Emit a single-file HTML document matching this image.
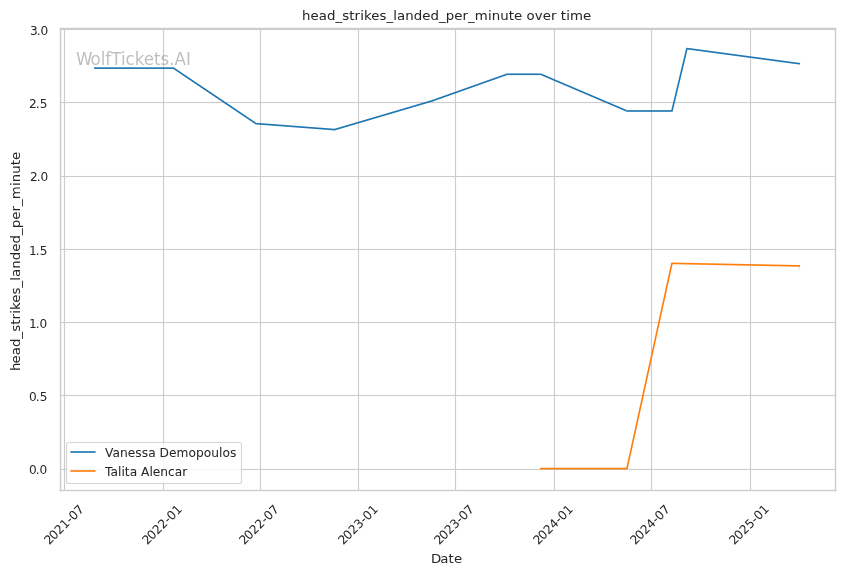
<!DOCTYPE html>
<html lang="en">
<head>
<meta charset="utf-8">
<title>head_strikes_landed_per_minute over time</title>
<style>
  html, body { margin: 0; padding: 0; background: #ffffff; }
  body { width: 844px; height: 575px; overflow: hidden; }
  svg { display: block; }
  svg text { font-family: "DejaVu Sans", "Liberation Sans", sans-serif; font-weight: 400; font-style: normal; white-space: pre; text-rendering: auto; }
</style>
</head>
<body>
<svg width="844" height="575" viewBox="0 0 844 575" role="img" aria-label="head_strikes_landed_per_minute over time">
  <!-- Line chart (seaborn "paper"/"whitegrid" look): grid, tick labels, two series, legend, watermark.
       Geometry is laid out on the pixel grid of the 844x575 canvas; glyphs carry explicit x positions so
       the DejaVu Sans text keeps the same advance widths as the original raster. -->
  <rect x="0" y="0" width="844" height="575" fill="#ffffff"/>
  <g class="axes">
    <g class="grid">
      <path d="M64.5,490.5 L64.5,28.5" fill="none" stroke="#cccccc" stroke-width="1.111" stroke-linecap="round" stroke-linejoin="round"/>
      <path d="M163.5,490.5 L163.5,28.5" fill="none" stroke="#cccccc" stroke-width="1.111" stroke-linecap="round" stroke-linejoin="round"/>
      <path d="M260.5,490.5 L260.5,28.5" fill="none" stroke="#cccccc" stroke-width="1.111" stroke-linecap="round" stroke-linejoin="round"/>
      <path d="M358.5,490.5 L358.5,28.5" fill="none" stroke="#cccccc" stroke-width="1.111" stroke-linecap="round" stroke-linejoin="round"/>
      <path d="M455.5,490.5 L455.5,28.5" fill="none" stroke="#cccccc" stroke-width="1.111" stroke-linecap="round" stroke-linejoin="round"/>
      <path d="M554.5,490.5 L554.5,28.5" fill="none" stroke="#cccccc" stroke-width="1.111" stroke-linecap="round" stroke-linejoin="round"/>
      <path d="M651.5,490.5 L651.5,28.5" fill="none" stroke="#cccccc" stroke-width="1.111" stroke-linecap="round" stroke-linejoin="round"/>
      <path d="M750.5,490.5 L750.5,28.5" fill="none" stroke="#cccccc" stroke-width="1.111" stroke-linecap="round" stroke-linejoin="round"/>
      <path d="M60,469.5 H836" fill="none" stroke="#cccccc" stroke-opacity="0.0556" stroke-width="3"/>
      <path d="M60,469.5 H836" fill="none" stroke="#cccccc" stroke-width="1"/>
      <path d="M60,395.5 H836" fill="none" stroke="#cccccc" stroke-opacity="0.0556" stroke-width="3"/>
      <path d="M60,395.5 H836" fill="none" stroke="#cccccc" stroke-width="1"/>
      <path d="M60,322.5 H836" fill="none" stroke="#cccccc" stroke-opacity="0.0556" stroke-width="3"/>
      <path d="M60,322.5 H836" fill="none" stroke="#cccccc" stroke-width="1"/>
      <path d="M60,249.5 H836" fill="none" stroke="#cccccc" stroke-opacity="0.0556" stroke-width="3"/>
      <path d="M60,249.5 H836" fill="none" stroke="#cccccc" stroke-width="1"/>
      <path d="M60,176.5 H836" fill="none" stroke="#cccccc" stroke-opacity="0.0556" stroke-width="3"/>
      <path d="M60,176.5 H836" fill="none" stroke="#cccccc" stroke-width="1"/>
      <path d="M60,102.5 H836" fill="none" stroke="#cccccc" stroke-opacity="0.0556" stroke-width="3"/>
      <path d="M60,102.5 H836" fill="none" stroke="#cccccc" stroke-width="1"/>
      <path d="M60,29.5 H836" fill="none" stroke="#cccccc" stroke-opacity="0.0556" stroke-width="3"/>
      <path d="M60,29.5 H836" fill="none" stroke="#cccccc" stroke-width="1"/>
    </g>
    <g class="x-tick-labels">
      <text font-size="12.222" fill="#262626" stroke="#262626" stroke-width="0.01" transform="translate(48.586,546) rotate(-45)" x="1 7.75 15.5 23.25 31 35.5 43.25" y="0">2021-07</text>
      <text font-size="12.222" fill="#262626" stroke="#262626" stroke-width="0.01" transform="translate(146.586,546) rotate(-45)" x="1 7.75 15.5 23.25 31 35.5 43.25" y="0">2022-01</text>
      <text font-size="12.222" fill="#262626" stroke="#262626" stroke-width="0.01" transform="translate(243.586,546) rotate(-45)" x="1 7.75 15.5 23.25 31 35.5 43.25" y="0">2022-07</text>
      <text font-size="12.222" fill="#262626" stroke="#262626" stroke-width="0.01" transform="translate(342.586,546) rotate(-45)" x="1 7.75 15.5 23.25 31 35.5 43.25" y="0">2023-01</text>
      <text font-size="12.222" fill="#262626" stroke="#262626" stroke-width="0.01" transform="translate(438.586,546) rotate(-45)" x="1 7.75 15.5 23.25 31 35.5 43.25" y="0">2023-07</text>
      <text font-size="12.222" fill="#262626" stroke="#262626" stroke-width="0.01" transform="translate(537.586,546) rotate(-45)" x="1 7.75 15.5 23.25 31 35.5 43.25" y="0">2024-01</text>
      <text font-size="12.222" fill="#262626" stroke="#262626" stroke-width="0.01" transform="translate(634.586,546) rotate(-45)" x="1 7.75 15.5 23.25 31 35.5 43.25" y="0">2024-07</text>
      <text font-size="12.222" fill="#262626" stroke="#262626" stroke-width="0.01" transform="translate(733.586,546) rotate(-45)" x="1 7.75 15.5 23.25 31.125 35.625 43.375" y="0">2025-01</text>
    </g>
    <g class="y-tick-labels">
      <text font-size="12.131" fill="#262626" x="28.938 35.688 39.562" y="474">0.0</text>
      <text font-size="12.131" fill="#262626" x="29.062 35.812 39.688" y="401">0.5</text>
      <text font-size="12.131" fill="#262626" x="28.938 35.688 39.562" y="328">1.0</text>
      <text font-size="12.131" fill="#262626" x="29.062 35.812 39.688" y="255">1.5</text>
      <text font-size="12.131" fill="#262626" x="29.938 36.688 40.562" y="181">2.0</text>
      <text font-size="12.131" fill="#262626" x="29.062 35.812 39.688" y="108">2.5</text>
      <text font-size="12.131" fill="#262626" x="29.938 36.688 40.562" y="35">3.0</text>
    </g>
    <g class="axis-labels">
      <text font-size="13.1" fill="#262626" transform="translate(430.062,563) scale(1.0178,1)" x="0.983 10.071 18.176 23.457" y="0">Date</text>
      <text font-size="13.1" fill="#262626" stroke="#262626" stroke-width="0.01" transform="translate(20,371.938) rotate(-90) scale(1.0178,1)" x="0.983 8.351 16.457 24.563 32.914 39.546 46.301 51.582 57.108 60.793 68.039 76.145 82.899 89.531 93.216 101.321 109.673 118.024 126.13 134.481 141.113 149.465 157.57 163.097 169.729 182.624 186.309 194.66 203.011 208.292" y="0">head_strikes_landed_per_minute</text>
    </g>
    <g class="ci-band">
      <path d="M799.5,63.5 L799.5,64.5" fill="none" stroke="#1f77b4" stroke-opacity="0.2" stroke-width="1.111"/>
      <path d="M799.5,264.5 L799.5,269.5" fill="none" stroke="#ff7f0e" stroke-opacity="0.2" stroke-width="1.111"/>
    </g>
    <g class="series">
      <clipPath id="joins-1f77b4"><rect x="93" y="67" width="3" height="2"/><rect x="172" y="67" width="3" height="4"/><rect x="255" y="121" width="2" height="4"/><rect x="333" y="128" width="3" height="3"/><rect x="431" y="99" width="2" height="4"/><rect x="506" y="73" width="2" height="3"/><rect x="539" y="73" width="3" height="3"/><rect x="626" y="109" width="2" height="3"/><rect x="671" y="110" width="3" height="2"/><rect x="685" y="47" width="3" height="3"/><rect x="798" y="62" width="3" height="3"/></clipPath>
      <path d="M94.811,68.138 L173.51,68.138 L255.957,123.596 L334.656,129.601 L432.093,100.854 L507.045,74.26 L540.773,74.26 L626.967,110.988 L671.938,110.988 L686.929,48.573 L799.356,63.701" fill="none" stroke="#1f77b4" stroke-width="1.667" stroke-linecap="round" stroke-linejoin="round" clip-path="url(#joins-1f77b4)"/>
      <g class="segments" fill="#1f77b4">
        <rect x="96" y="67.305" width="76" height="1.667"/><rect x="175" y="68.473" width="1" height="2.009"/><rect x="176" y="69.145" width="1" height="2.009"/><rect x="177" y="69.818" width="1" height="2.009"/>
        <rect x="178" y="70.491" width="1" height="2.009"/><rect x="179" y="71.163" width="1" height="2.009"/><rect x="180" y="71.836" width="1" height="2.009"/><rect x="181" y="72.509" width="1" height="2.009"/>
        <rect x="182" y="73.181" width="1" height="2.009"/><rect x="183" y="73.854" width="1" height="2.009"/><rect x="184" y="74.527" width="1" height="2.009"/><rect x="185" y="75.199" width="1" height="2.009"/>
        <rect x="186" y="75.872" width="1" height="2.009"/><rect x="187" y="76.545" width="1" height="2.009"/><rect x="188" y="77.217" width="1" height="2.009"/><rect x="189" y="77.89" width="1" height="2.009"/>
        <rect x="190" y="78.562" width="1" height="2.009"/><rect x="191" y="79.235" width="1" height="2.009"/><rect x="192" y="79.908" width="1" height="2.009"/><rect x="193" y="80.58" width="1" height="2.009"/>
        <rect x="194" y="81.253" width="1" height="2.009"/><rect x="195" y="81.926" width="1" height="2.009"/><rect x="196" y="82.598" width="1" height="2.009"/><rect x="197" y="83.271" width="1" height="2.009"/>
        <rect x="198" y="83.944" width="1" height="2.009"/><rect x="199" y="84.616" width="1" height="2.009"/><rect x="200" y="85.289" width="1" height="2.009"/><rect x="201" y="85.962" width="1" height="2.009"/>
        <rect x="202" y="86.634" width="1" height="2.009"/><rect x="203" y="87.307" width="1" height="2.009"/><rect x="204" y="87.98" width="1" height="2.009"/><rect x="205" y="88.652" width="1" height="2.009"/>
        <rect x="206" y="89.325" width="1" height="2.009"/><rect x="207" y="89.998" width="1" height="2.009"/><rect x="208" y="90.67" width="1" height="2.009"/><rect x="209" y="91.343" width="1" height="2.009"/>
        <rect x="210" y="92.016" width="1" height="2.009"/><rect x="211" y="92.688" width="1" height="2.009"/><rect x="212" y="93.361" width="1" height="2.009"/><rect x="213" y="94.034" width="1" height="2.009"/>
        <rect x="214" y="94.706" width="1" height="2.009"/><rect x="215" y="95.379" width="1" height="2.009"/><rect x="216" y="96.051" width="1" height="2.009"/><rect x="217" y="96.724" width="1" height="2.009"/>
        <rect x="218" y="97.397" width="1" height="2.009"/><rect x="219" y="98.069" width="1" height="2.009"/><rect x="220" y="98.742" width="1" height="2.009"/><rect x="221" y="99.415" width="1" height="2.009"/>
        <rect x="222" y="100.087" width="1" height="2.009"/><rect x="223" y="100.76" width="1" height="2.009"/><rect x="224" y="101.433" width="1" height="2.009"/><rect x="225" y="102.105" width="1" height="2.009"/>
        <rect x="226" y="102.778" width="1" height="2.009"/><rect x="227" y="103.451" width="1" height="2.009"/><rect x="228" y="104.123" width="1" height="2.009"/><rect x="229" y="104.796" width="1" height="2.009"/>
        <rect x="230" y="105.469" width="1" height="2.009"/><rect x="231" y="106.141" width="1" height="2.009"/><rect x="232" y="106.814" width="1" height="2.009"/><rect x="233" y="107.487" width="1" height="2.009"/>
        <rect x="234" y="108.159" width="1" height="2.009"/><rect x="235" y="108.832" width="1" height="2.009"/><rect x="236" y="109.505" width="1" height="2.009"/><rect x="237" y="110.177" width="1" height="2.009"/>
        <rect x="238" y="110.85" width="1" height="2.009"/><rect x="239" y="111.523" width="1" height="2.009"/><rect x="240" y="112.195" width="1" height="2.009"/><rect x="241" y="112.868" width="1" height="2.009"/>
        <rect x="242" y="113.54" width="1" height="2.009"/><rect x="243" y="114.213" width="1" height="2.009"/><rect x="244" y="114.886" width="1" height="2.009"/><rect x="245" y="115.558" width="1" height="2.009"/>
        <rect x="246" y="116.231" width="1" height="2.009"/><rect x="247" y="116.904" width="1" height="2.009"/><rect x="248" y="117.576" width="1" height="2.009"/><rect x="249" y="118.249" width="1" height="2.009"/>
        <rect x="250" y="118.922" width="1" height="2.009"/><rect x="251" y="119.594" width="1" height="2.009"/><rect x="252" y="120.267" width="1" height="2.009"/><rect x="253" y="120.94" width="1" height="2.009"/>
        <rect x="254" y="121.612" width="1" height="2.009"/><rect x="257" y="122.878" width="1" height="1.672"/><rect x="258" y="122.955" width="1" height="1.672"/><rect x="259" y="123.031" width="1" height="1.672"/>
        <rect x="260" y="123.107" width="1" height="1.672"/><rect x="261" y="123.184" width="1" height="1.672"/><rect x="262" y="123.26" width="1" height="1.672"/><rect x="263" y="123.336" width="1" height="1.672"/>
        <rect x="264" y="123.412" width="1" height="1.672"/><rect x="265" y="123.489" width="1" height="1.672"/><rect x="266" y="123.565" width="1" height="1.672"/><rect x="267" y="123.641" width="1" height="1.672"/>
        <rect x="268" y="123.718" width="1" height="1.672"/><rect x="269" y="123.794" width="1" height="1.672"/><rect x="270" y="123.87" width="1" height="1.672"/><rect x="271" y="123.947" width="1" height="1.672"/>
        <rect x="272" y="124.023" width="1" height="1.672"/><rect x="273" y="124.099" width="1" height="1.672"/><rect x="274" y="124.175" width="1" height="1.672"/><rect x="275" y="124.252" width="1" height="1.672"/>
        <rect x="276" y="124.328" width="1" height="1.672"/><rect x="277" y="124.404" width="1" height="1.672"/><rect x="278" y="124.481" width="1" height="1.672"/><rect x="279" y="124.557" width="1" height="1.672"/>
        <rect x="280" y="124.633" width="1" height="1.672"/><rect x="281" y="124.709" width="1" height="1.672"/><rect x="282" y="124.786" width="1" height="1.672"/><rect x="283" y="124.862" width="1" height="1.672"/>
        <rect x="284" y="124.938" width="1" height="1.672"/><rect x="285" y="125.015" width="1" height="1.672"/><rect x="286" y="125.091" width="1" height="1.672"/><rect x="287" y="125.167" width="1" height="1.672"/>
        <rect x="288" y="125.244" width="1" height="1.672"/><rect x="289" y="125.32" width="1" height="1.672"/><rect x="290" y="125.396" width="1" height="1.672"/><rect x="291" y="125.472" width="1" height="1.672"/>
        <rect x="292" y="125.549" width="1" height="1.672"/><rect x="293" y="125.625" width="1" height="1.672"/><rect x="294" y="125.701" width="1" height="1.672"/><rect x="295" y="125.778" width="1" height="1.672"/>
        <rect x="296" y="125.854" width="1" height="1.672"/><rect x="297" y="125.93" width="1" height="1.672"/><rect x="298" y="126.006" width="1" height="1.672"/><rect x="299" y="126.083" width="1" height="1.672"/>
        <rect x="300" y="126.159" width="1" height="1.672"/><rect x="301" y="126.235" width="1" height="1.672"/><rect x="302" y="126.312" width="1" height="1.672"/><rect x="303" y="126.388" width="1" height="1.672"/>
        <rect x="304" y="126.464" width="1" height="1.672"/><rect x="305" y="126.541" width="1" height="1.672"/><rect x="306" y="126.617" width="1" height="1.672"/><rect x="307" y="126.693" width="1" height="1.672"/>
        <rect x="308" y="126.769" width="1" height="1.672"/><rect x="309" y="126.846" width="1" height="1.672"/><rect x="310" y="126.922" width="1" height="1.672"/><rect x="311" y="126.998" width="1" height="1.672"/>
        <rect x="312" y="127.075" width="1" height="1.672"/><rect x="313" y="127.151" width="1" height="1.672"/><rect x="314" y="127.227" width="1" height="1.672"/><rect x="315" y="127.303" width="1" height="1.672"/>
        <rect x="316" y="127.38" width="1" height="1.672"/><rect x="317" y="127.456" width="1" height="1.672"/><rect x="318" y="127.532" width="1" height="1.672"/><rect x="319" y="127.609" width="1" height="1.672"/>
        <rect x="320" y="127.685" width="1" height="1.672"/><rect x="321" y="127.761" width="1" height="1.672"/><rect x="322" y="127.837" width="1" height="1.672"/><rect x="323" y="127.914" width="1" height="1.672"/>
        <rect x="324" y="127.99" width="1" height="1.672"/><rect x="325" y="128.066" width="1" height="1.672"/><rect x="326" y="128.143" width="1" height="1.672"/><rect x="327" y="128.219" width="1" height="1.672"/>
        <rect x="328" y="128.295" width="1" height="1.672"/><rect x="329" y="128.372" width="1" height="1.672"/><rect x="330" y="128.448" width="1" height="1.672"/><rect x="331" y="128.524" width="1" height="1.672"/>
        <rect x="332" y="128.6" width="1" height="1.672"/><rect x="336" y="128.188" width="1" height="1.738"/><rect x="337" y="127.893" width="1" height="1.738"/><rect x="338" y="127.598" width="1" height="1.738"/>
        <rect x="339" y="127.303" width="1" height="1.738"/><rect x="340" y="127.008" width="1" height="1.738"/><rect x="341" y="126.713" width="1" height="1.738"/><rect x="342" y="126.418" width="1" height="1.738"/>
        <rect x="343" y="126.123" width="1" height="1.738"/><rect x="344" y="125.827" width="1" height="1.738"/><rect x="345" y="125.532" width="1" height="1.738"/><rect x="346" y="125.237" width="1" height="1.738"/>
        <rect x="347" y="124.942" width="1" height="1.738"/><rect x="348" y="124.647" width="1" height="1.738"/><rect x="349" y="124.352" width="1" height="1.738"/><rect x="350" y="124.057" width="1" height="1.738"/>
        <rect x="351" y="123.762" width="1" height="1.738"/><rect x="352" y="123.467" width="1" height="1.738"/><rect x="353" y="123.172" width="1" height="1.738"/><rect x="354" y="122.877" width="1" height="1.738"/>
        <rect x="355" y="122.582" width="1" height="1.738"/><rect x="356" y="122.287" width="1" height="1.738"/><rect x="357" y="121.992" width="1" height="1.738"/><rect x="358" y="121.697" width="1" height="1.738"/>
        <rect x="359" y="121.402" width="1" height="1.738"/><rect x="360" y="121.107" width="1" height="1.738"/><rect x="361" y="120.812" width="1" height="1.738"/><rect x="362" y="120.517" width="1" height="1.738"/>
        <rect x="363" y="120.222" width="1" height="1.738"/><rect x="364" y="119.927" width="1" height="1.738"/><rect x="365" y="119.632" width="1" height="1.738"/><rect x="366" y="119.337" width="1" height="1.738"/>
        <rect x="367" y="119.042" width="1" height="1.738"/><rect x="368" y="118.747" width="1" height="1.738"/><rect x="369" y="118.452" width="1" height="1.738"/><rect x="370" y="118.157" width="1" height="1.738"/>
        <rect x="371" y="117.862" width="1" height="1.738"/><rect x="372" y="117.567" width="1" height="1.738"/><rect x="373" y="117.272" width="1" height="1.738"/><rect x="374" y="116.977" width="1" height="1.738"/>
        <rect x="375" y="116.682" width="1" height="1.738"/><rect x="376" y="116.387" width="1" height="1.738"/><rect x="377" y="116.091" width="1" height="1.738"/><rect x="378" y="115.796" width="1" height="1.738"/>
        <rect x="379" y="115.501" width="1" height="1.738"/><rect x="380" y="115.206" width="1" height="1.738"/><rect x="381" y="114.911" width="1" height="1.738"/><rect x="382" y="114.616" width="1" height="1.738"/>
        <rect x="383" y="114.321" width="1" height="1.738"/><rect x="384" y="114.026" width="1" height="1.738"/><rect x="385" y="113.731" width="1" height="1.738"/><rect x="386" y="113.436" width="1" height="1.738"/>
        <rect x="387" y="113.141" width="1" height="1.738"/><rect x="388" y="112.846" width="1" height="1.738"/><rect x="389" y="112.551" width="1" height="1.738"/><rect x="390" y="112.256" width="1" height="1.738"/>
        <rect x="391" y="111.961" width="1" height="1.738"/><rect x="392" y="111.666" width="1" height="1.738"/><rect x="393" y="111.371" width="1" height="1.738"/><rect x="394" y="111.076" width="1" height="1.738"/>
        <rect x="395" y="110.781" width="1" height="1.738"/><rect x="396" y="110.486" width="1" height="1.738"/><rect x="397" y="110.191" width="1" height="1.738"/><rect x="398" y="109.896" width="1" height="1.738"/>
        <rect x="399" y="109.601" width="1" height="1.738"/><rect x="400" y="109.306" width="1" height="1.738"/><rect x="401" y="109.011" width="1" height="1.738"/><rect x="402" y="108.716" width="1" height="1.738"/>
        <rect x="403" y="108.421" width="1" height="1.738"/><rect x="404" y="108.126" width="1" height="1.738"/><rect x="405" y="107.831" width="1" height="1.738"/><rect x="406" y="107.536" width="1" height="1.738"/>
        <rect x="407" y="107.241" width="1" height="1.738"/><rect x="408" y="106.946" width="1" height="1.738"/><rect x="409" y="106.651" width="1" height="1.738"/><rect x="410" y="106.356" width="1" height="1.738"/>
        <rect x="411" y="106.06" width="1" height="1.738"/><rect x="412" y="105.765" width="1" height="1.738"/><rect x="413" y="105.47" width="1" height="1.738"/><rect x="414" y="105.175" width="1" height="1.738"/>
        <rect x="415" y="104.88" width="1" height="1.738"/><rect x="416" y="104.585" width="1" height="1.738"/><rect x="417" y="104.29" width="1" height="1.738"/><rect x="418" y="103.995" width="1" height="1.738"/>
        <rect x="419" y="103.7" width="1" height="1.738"/><rect x="420" y="103.405" width="1" height="1.738"/><rect x="421" y="103.11" width="1" height="1.738"/><rect x="422" y="102.815" width="1" height="1.738"/>
        <rect x="423" y="102.52" width="1" height="1.738"/><rect x="424" y="102.225" width="1" height="1.738"/><rect x="425" y="101.93" width="1" height="1.738"/><rect x="426" y="101.635" width="1" height="1.738"/>
        <rect x="427" y="101.34" width="1" height="1.738"/><rect x="428" y="101.045" width="1" height="1.738"/><rect x="429" y="100.75" width="1" height="1.738"/><rect x="430" y="100.455" width="1" height="1.738"/>
        <rect x="433" y="99.47" width="1" height="1.768"/><rect x="434" y="99.116" width="1" height="1.768"/><rect x="435" y="98.761" width="1" height="1.768"/><rect x="436" y="98.406" width="1" height="1.768"/>
        <rect x="437" y="98.051" width="1" height="1.768"/><rect x="438" y="97.696" width="1" height="1.768"/><rect x="439" y="97.341" width="1" height="1.768"/><rect x="440" y="96.987" width="1" height="1.768"/>
        <rect x="441" y="96.632" width="1" height="1.768"/><rect x="442" y="96.277" width="1" height="1.768"/><rect x="443" y="95.922" width="1" height="1.768"/><rect x="444" y="95.567" width="1" height="1.768"/>
        <rect x="445" y="95.213" width="1" height="1.768"/><rect x="446" y="94.858" width="1" height="1.768"/><rect x="447" y="94.503" width="1" height="1.768"/><rect x="448" y="94.148" width="1" height="1.768"/>
        <rect x="449" y="93.793" width="1" height="1.768"/><rect x="450" y="93.438" width="1" height="1.768"/><rect x="451" y="93.084" width="1" height="1.768"/><rect x="452" y="92.729" width="1" height="1.768"/>
        <rect x="453" y="92.374" width="1" height="1.768"/><rect x="454" y="92.019" width="1" height="1.768"/><rect x="455" y="91.664" width="1" height="1.768"/><rect x="456" y="91.31" width="1" height="1.768"/>
        <rect x="457" y="90.955" width="1" height="1.768"/><rect x="458" y="90.6" width="1" height="1.768"/><rect x="459" y="90.245" width="1" height="1.768"/><rect x="460" y="89.89" width="1" height="1.768"/>
        <rect x="461" y="89.535" width="1" height="1.768"/><rect x="462" y="89.181" width="1" height="1.768"/><rect x="463" y="88.826" width="1" height="1.768"/><rect x="464" y="88.471" width="1" height="1.768"/>
        <rect x="465" y="88.116" width="1" height="1.768"/><rect x="466" y="87.761" width="1" height="1.768"/><rect x="467" y="87.407" width="1" height="1.768"/><rect x="468" y="87.052" width="1" height="1.768"/>
        <rect x="469" y="86.697" width="1" height="1.768"/><rect x="470" y="86.342" width="1" height="1.768"/><rect x="471" y="85.987" width="1" height="1.768"/><rect x="472" y="85.632" width="1" height="1.768"/>
        <rect x="473" y="85.278" width="1" height="1.768"/><rect x="474" y="84.923" width="1" height="1.768"/><rect x="475" y="84.568" width="1" height="1.768"/><rect x="476" y="84.213" width="1" height="1.768"/>
        <rect x="477" y="83.858" width="1" height="1.768"/><rect x="478" y="83.504" width="1" height="1.768"/><rect x="479" y="83.149" width="1" height="1.768"/><rect x="480" y="82.794" width="1" height="1.768"/>
        <rect x="481" y="82.439" width="1" height="1.768"/><rect x="482" y="82.084" width="1" height="1.768"/><rect x="483" y="81.729" width="1" height="1.768"/><rect x="484" y="81.375" width="1" height="1.768"/>
        <rect x="485" y="81.02" width="1" height="1.768"/><rect x="486" y="80.665" width="1" height="1.768"/><rect x="487" y="80.31" width="1" height="1.768"/><rect x="488" y="79.955" width="1" height="1.768"/>
        <rect x="489" y="79.601" width="1" height="1.768"/><rect x="490" y="79.246" width="1" height="1.768"/><rect x="491" y="78.891" width="1" height="1.768"/><rect x="492" y="78.536" width="1" height="1.768"/>
        <rect x="493" y="78.181" width="1" height="1.768"/><rect x="494" y="77.826" width="1" height="1.768"/><rect x="495" y="77.472" width="1" height="1.768"/><rect x="496" y="77.117" width="1" height="1.768"/>
        <rect x="497" y="76.762" width="1" height="1.768"/><rect x="498" y="76.407" width="1" height="1.768"/><rect x="499" y="76.052" width="1" height="1.768"/><rect x="500" y="75.698" width="1" height="1.768"/>
        <rect x="501" y="75.343" width="1" height="1.768"/><rect x="502" y="74.988" width="1" height="1.768"/><rect x="503" y="74.633" width="1" height="1.768"/><rect x="504" y="74.278" width="1" height="1.768"/>
        <rect x="505" y="73.923" width="1" height="1.768"/><rect x="508" y="73.426" width="31" height="1.667"/><rect x="542" y="74.09" width="1" height="1.812"/><rect x="543" y="74.516" width="1" height="1.812"/>
        <rect x="544" y="74.942" width="1" height="1.812"/><rect x="545" y="75.368" width="1" height="1.812"/><rect x="546" y="75.794" width="1" height="1.812"/><rect x="547" y="76.22" width="1" height="1.812"/>
        <rect x="548" y="76.646" width="1" height="1.812"/><rect x="549" y="77.072" width="1" height="1.812"/><rect x="550" y="77.499" width="1" height="1.812"/><rect x="551" y="77.925" width="1" height="1.812"/>
        <rect x="552" y="78.351" width="1" height="1.812"/><rect x="553" y="78.777" width="1" height="1.812"/><rect x="554" y="79.203" width="1" height="1.812"/><rect x="555" y="79.629" width="1" height="1.812"/>
        <rect x="556" y="80.055" width="1" height="1.812"/><rect x="557" y="80.481" width="1" height="1.812"/><rect x="558" y="80.907" width="1" height="1.812"/><rect x="559" y="81.334" width="1" height="1.812"/>
        <rect x="560" y="81.76" width="1" height="1.812"/><rect x="561" y="82.186" width="1" height="1.812"/><rect x="562" y="82.612" width="1" height="1.812"/><rect x="563" y="83.038" width="1" height="1.812"/>
        <rect x="564" y="83.464" width="1" height="1.812"/><rect x="565" y="83.89" width="1" height="1.812"/><rect x="566" y="84.316" width="1" height="1.812"/><rect x="567" y="84.742" width="1" height="1.812"/>
        <rect x="568" y="85.169" width="1" height="1.812"/><rect x="569" y="85.595" width="1" height="1.812"/><rect x="570" y="86.021" width="1" height="1.812"/><rect x="571" y="86.447" width="1" height="1.812"/>
        <rect x="572" y="86.873" width="1" height="1.812"/><rect x="573" y="87.299" width="1" height="1.812"/><rect x="574" y="87.725" width="1" height="1.812"/><rect x="575" y="88.151" width="1" height="1.812"/>
        <rect x="576" y="88.577" width="1" height="1.812"/><rect x="577" y="89.003" width="1" height="1.812"/><rect x="578" y="89.43" width="1" height="1.812"/><rect x="579" y="89.856" width="1" height="1.812"/>
        <rect x="580" y="90.282" width="1" height="1.812"/><rect x="581" y="90.708" width="1" height="1.812"/><rect x="582" y="91.134" width="1" height="1.812"/><rect x="583" y="91.56" width="1" height="1.812"/>
        <rect x="584" y="91.986" width="1" height="1.812"/><rect x="585" y="92.412" width="1" height="1.812"/><rect x="586" y="92.838" width="1" height="1.812"/><rect x="587" y="93.265" width="1" height="1.812"/>
        <rect x="588" y="93.691" width="1" height="1.812"/><rect x="589" y="94.117" width="1" height="1.812"/><rect x="590" y="94.543" width="1" height="1.812"/><rect x="591" y="94.969" width="1" height="1.812"/>
        <rect x="592" y="95.395" width="1" height="1.812"/><rect x="593" y="95.821" width="1" height="1.812"/><rect x="594" y="96.247" width="1" height="1.812"/><rect x="595" y="96.673" width="1" height="1.812"/>
        <rect x="596" y="97.1" width="1" height="1.812"/><rect x="597" y="97.526" width="1" height="1.812"/><rect x="598" y="97.952" width="1" height="1.812"/><rect x="599" y="98.378" width="1" height="1.812"/>
        <rect x="600" y="98.804" width="1" height="1.812"/><rect x="601" y="99.23" width="1" height="1.812"/><rect x="602" y="99.656" width="1" height="1.812"/><rect x="603" y="100.082" width="1" height="1.812"/>
        <rect x="604" y="100.508" width="1" height="1.812"/><rect x="605" y="100.934" width="1" height="1.812"/><rect x="606" y="101.361" width="1" height="1.812"/><rect x="607" y="101.787" width="1" height="1.812"/>
        <rect x="608" y="102.213" width="1" height="1.812"/><rect x="609" y="102.639" width="1" height="1.812"/><rect x="610" y="103.065" width="1" height="1.812"/><rect x="611" y="103.491" width="1" height="1.812"/>
        <rect x="612" y="103.917" width="1" height="1.812"/><rect x="613" y="104.343" width="1" height="1.812"/><rect x="614" y="104.769" width="1" height="1.812"/><rect x="615" y="105.196" width="1" height="1.812"/>
        <rect x="616" y="105.622" width="1" height="1.812"/><rect x="617" y="106.048" width="1" height="1.812"/><rect x="618" y="106.474" width="1" height="1.812"/><rect x="619" y="106.9" width="1" height="1.812"/>
        <rect x="620" y="107.326" width="1" height="1.812"/><rect x="621" y="107.752" width="1" height="1.812"/><rect x="622" y="108.178" width="1" height="1.812"/><rect x="623" y="108.604" width="1" height="1.812"/>
        <rect x="624" y="109.031" width="1" height="1.812"/><rect x="625" y="109.457" width="1" height="1.812"/><rect x="628" y="110.154" width="43" height="1.667"/><rect x="685.609" y="50" width="1.714" height="1"/>
        <rect x="685.369" y="51" width="1.714" height="1"/><rect x="685.129" y="52" width="1.714" height="1"/><rect x="684.888" y="53" width="1.714" height="1"/><rect x="684.648" y="54" width="1.714" height="1"/>
        <rect x="684.408" y="55" width="1.714" height="1"/><rect x="684.168" y="56" width="1.714" height="1"/><rect x="683.928" y="57" width="1.714" height="1"/><rect x="683.687" y="58" width="1.714" height="1"/>
        <rect x="683.447" y="59" width="1.714" height="1"/><rect x="683.207" y="60" width="1.714" height="1"/><rect x="682.967" y="61" width="1.714" height="1"/><rect x="682.727" y="62" width="1.714" height="1"/>
        <rect x="682.487" y="63" width="1.714" height="1"/><rect x="682.246" y="64" width="1.714" height="1"/><rect x="682.006" y="65" width="1.714" height="1"/><rect x="681.766" y="66" width="1.714" height="1"/>
        <rect x="681.526" y="67" width="1.714" height="1"/><rect x="681.286" y="68" width="1.714" height="1"/><rect x="681.046" y="69" width="1.714" height="1"/><rect x="680.805" y="70" width="1.714" height="1"/>
        <rect x="680.565" y="71" width="1.714" height="1"/><rect x="680.325" y="72" width="1.714" height="1"/><rect x="680.085" y="73" width="1.714" height="1"/><rect x="679.845" y="74" width="1.714" height="1"/>
        <rect x="679.604" y="75" width="1.714" height="1"/><rect x="679.364" y="76" width="1.714" height="1"/><rect x="679.124" y="77" width="1.714" height="1"/><rect x="678.884" y="78" width="1.714" height="1"/>
        <rect x="678.644" y="79" width="1.714" height="1"/><rect x="678.404" y="80" width="1.714" height="1"/><rect x="678.163" y="81" width="1.714" height="1"/><rect x="677.923" y="82" width="1.714" height="1"/>
        <rect x="677.683" y="83" width="1.714" height="1"/><rect x="677.443" y="84" width="1.714" height="1"/><rect x="677.203" y="85" width="1.714" height="1"/><rect x="676.963" y="86" width="1.714" height="1"/>
        <rect x="676.722" y="87" width="1.714" height="1"/><rect x="676.482" y="88" width="1.714" height="1"/><rect x="676.242" y="89" width="1.714" height="1"/><rect x="676.002" y="90" width="1.714" height="1"/>
        <rect x="675.762" y="91" width="1.714" height="1"/><rect x="675.522" y="92" width="1.714" height="1"/><rect x="675.281" y="93" width="1.714" height="1"/><rect x="675.041" y="94" width="1.714" height="1"/>
        <rect x="674.801" y="95" width="1.714" height="1"/><rect x="674.561" y="96" width="1.714" height="1"/><rect x="674.321" y="97" width="1.714" height="1"/><rect x="674.08" y="98" width="1.714" height="1"/>
        <rect x="673.84" y="99" width="1.714" height="1"/><rect x="673.6" y="100" width="1.714" height="1"/><rect x="673.36" y="101" width="1.714" height="1"/><rect x="673.12" y="102" width="1.714" height="1"/>
        <rect x="672.88" y="103" width="1.714" height="1"/><rect x="672.639" y="104" width="1.714" height="1"/><rect x="672.399" y="105" width="1.714" height="1"/><rect x="672.159" y="106" width="1.714" height="1"/>
        <rect x="671.919" y="107" width="1.714" height="1"/><rect x="671.679" y="108" width="1.714" height="1"/><rect x="671.439" y="109" width="1.714" height="1"/><rect x="688" y="47.944" width="1" height="1.682"/>
        <rect x="689" y="48.079" width="1" height="1.682"/><rect x="690" y="48.213" width="1" height="1.682"/><rect x="691" y="48.348" width="1" height="1.682"/><rect x="692" y="48.482" width="1" height="1.682"/>
        <rect x="693" y="48.617" width="1" height="1.682"/><rect x="694" y="48.751" width="1" height="1.682"/><rect x="695" y="48.886" width="1" height="1.682"/><rect x="696" y="49.02" width="1" height="1.682"/>
        <rect x="697" y="49.155" width="1" height="1.682"/><rect x="698" y="49.29" width="1" height="1.682"/><rect x="699" y="49.424" width="1" height="1.682"/><rect x="700" y="49.559" width="1" height="1.682"/>
        <rect x="701" y="49.693" width="1" height="1.682"/><rect x="702" y="49.828" width="1" height="1.682"/><rect x="703" y="49.962" width="1" height="1.682"/><rect x="704" y="50.097" width="1" height="1.682"/>
        <rect x="705" y="50.231" width="1" height="1.682"/><rect x="706" y="50.366" width="1" height="1.682"/><rect x="707" y="50.501" width="1" height="1.682"/><rect x="708" y="50.635" width="1" height="1.682"/>
        <rect x="709" y="50.77" width="1" height="1.682"/><rect x="710" y="50.904" width="1" height="1.682"/><rect x="711" y="51.039" width="1" height="1.682"/><rect x="712" y="51.173" width="1" height="1.682"/>
        <rect x="713" y="51.308" width="1" height="1.682"/><rect x="714" y="51.442" width="1" height="1.682"/><rect x="715" y="51.577" width="1" height="1.682"/><rect x="716" y="51.712" width="1" height="1.682"/>
        <rect x="717" y="51.846" width="1" height="1.682"/><rect x="718" y="51.981" width="1" height="1.682"/><rect x="719" y="52.115" width="1" height="1.682"/><rect x="720" y="52.25" width="1" height="1.682"/>
        <rect x="721" y="52.384" width="1" height="1.682"/><rect x="722" y="52.519" width="1" height="1.682"/><rect x="723" y="52.653" width="1" height="1.682"/><rect x="724" y="52.788" width="1" height="1.682"/>
        <rect x="725" y="52.923" width="1" height="1.682"/><rect x="726" y="53.057" width="1" height="1.682"/><rect x="727" y="53.192" width="1" height="1.682"/><rect x="728" y="53.326" width="1" height="1.682"/>
        <rect x="729" y="53.461" width="1" height="1.682"/><rect x="730" y="53.595" width="1" height="1.682"/><rect x="731" y="53.73" width="1" height="1.682"/><rect x="732" y="53.864" width="1" height="1.682"/>
        <rect x="733" y="53.999" width="1" height="1.682"/><rect x="734" y="54.134" width="1" height="1.682"/><rect x="735" y="54.268" width="1" height="1.682"/><rect x="736" y="54.403" width="1" height="1.682"/>
        <rect x="737" y="54.537" width="1" height="1.682"/><rect x="738" y="54.672" width="1" height="1.682"/><rect x="739" y="54.806" width="1" height="1.682"/><rect x="740" y="54.941" width="1" height="1.682"/>
        <rect x="741" y="55.075" width="1" height="1.682"/><rect x="742" y="55.21" width="1" height="1.682"/><rect x="743" y="55.345" width="1" height="1.682"/><rect x="744" y="55.479" width="1" height="1.682"/>
        <rect x="745" y="55.614" width="1" height="1.682"/><rect x="746" y="55.748" width="1" height="1.682"/><rect x="747" y="55.883" width="1" height="1.682"/><rect x="748" y="56.017" width="1" height="1.682"/>
        <rect x="749" y="56.152" width="1" height="1.682"/><rect x="750" y="56.286" width="1" height="1.682"/><rect x="751" y="56.421" width="1" height="1.682"/><rect x="752" y="56.556" width="1" height="1.682"/>
        <rect x="753" y="56.69" width="1" height="1.682"/><rect x="754" y="56.825" width="1" height="1.682"/><rect x="755" y="56.959" width="1" height="1.682"/><rect x="756" y="57.094" width="1" height="1.682"/>
        <rect x="757" y="57.228" width="1" height="1.682"/><rect x="758" y="57.363" width="1" height="1.682"/><rect x="759" y="57.497" width="1" height="1.682"/><rect x="760" y="57.632" width="1" height="1.682"/>
        <rect x="761" y="57.767" width="1" height="1.682"/><rect x="762" y="57.901" width="1" height="1.682"/><rect x="763" y="58.036" width="1" height="1.682"/><rect x="764" y="58.17" width="1" height="1.682"/>
        <rect x="765" y="58.305" width="1" height="1.682"/><rect x="766" y="58.439" width="1" height="1.682"/><rect x="767" y="58.574" width="1" height="1.682"/><rect x="768" y="58.708" width="1" height="1.682"/>
        <rect x="769" y="58.843" width="1" height="1.682"/><rect x="770" y="58.978" width="1" height="1.682"/><rect x="771" y="59.112" width="1" height="1.682"/><rect x="772" y="59.247" width="1" height="1.682"/>
        <rect x="773" y="59.381" width="1" height="1.682"/><rect x="774" y="59.516" width="1" height="1.682"/><rect x="775" y="59.65" width="1" height="1.682"/><rect x="776" y="59.785" width="1" height="1.682"/>
        <rect x="777" y="59.919" width="1" height="1.682"/><rect x="778" y="60.054" width="1" height="1.682"/><rect x="779" y="60.188" width="1" height="1.682"/><rect x="780" y="60.323" width="1" height="1.682"/>
        <rect x="781" y="60.458" width="1" height="1.682"/><rect x="782" y="60.592" width="1" height="1.682"/><rect x="783" y="60.727" width="1" height="1.682"/><rect x="784" y="60.861" width="1" height="1.682"/>
        <rect x="785" y="60.996" width="1" height="1.682"/><rect x="786" y="61.13" width="1" height="1.682"/><rect x="787" y="61.265" width="1" height="1.682"/><rect x="788" y="61.399" width="1" height="1.682"/>
        <rect x="789" y="61.534" width="1" height="1.682"/><rect x="790" y="61.669" width="1" height="1.682"/><rect x="791" y="61.803" width="1" height="1.682"/><rect x="792" y="61.938" width="1" height="1.682"/>
        <rect x="793" y="62.072" width="1" height="1.682"/><rect x="794" y="62.207" width="1" height="1.682"/><rect x="795" y="62.341" width="1" height="1.682"/><rect x="796" y="62.476" width="1" height="1.682"/>
        <rect x="797" y="62.61" width="1" height="1.682"/>
      </g>
      <clipPath id="joins-ff7f0e"><rect x="539" y="467" width="3" height="3"/><rect x="626" y="467" width="3" height="3"/><rect x="670" y="262" width="3" height="3"/><rect x="798" y="265" width="3" height="2"/></clipPath>
      <path d="M540.773,468.573 L626.967,468.573 L671.938,263.348 L799.356,265.896" fill="none" stroke="#ff7f0e" stroke-width="1.667" stroke-linecap="round" stroke-linejoin="round" clip-path="url(#joins-ff7f0e)"/>
      <g class="segments" fill="#ff7f0e">
        <rect x="542" y="467.74" width="84" height="1.667"/><rect x="670.613" y="265" width="1.706" height="1"/><rect x="670.394" y="266" width="1.706" height="1"/><rect x="670.175" y="267" width="1.706" height="1"/>
        <rect x="669.956" y="268" width="1.706" height="1"/><rect x="669.737" y="269" width="1.706" height="1"/><rect x="669.518" y="270" width="1.706" height="1"/><rect x="669.299" y="271" width="1.706" height="1"/>
        <rect x="669.08" y="272" width="1.706" height="1"/><rect x="668.86" y="273" width="1.706" height="1"/><rect x="668.641" y="274" width="1.706" height="1"/><rect x="668.422" y="275" width="1.706" height="1"/>
        <rect x="668.203" y="276" width="1.706" height="1"/><rect x="667.984" y="277" width="1.706" height="1"/><rect x="667.765" y="278" width="1.706" height="1"/><rect x="667.546" y="279" width="1.706" height="1"/>
        <rect x="667.327" y="280" width="1.706" height="1"/><rect x="667.107" y="281" width="1.706" height="1"/><rect x="666.888" y="282" width="1.706" height="1"/><rect x="666.669" y="283" width="1.706" height="1"/>
        <rect x="666.45" y="284" width="1.706" height="1"/><rect x="666.231" y="285" width="1.706" height="1"/><rect x="666.012" y="286" width="1.706" height="1"/><rect x="665.793" y="287" width="1.706" height="1"/>
        <rect x="665.574" y="288" width="1.706" height="1"/><rect x="665.354" y="289" width="1.706" height="1"/><rect x="665.135" y="290" width="1.706" height="1"/><rect x="664.916" y="291" width="1.706" height="1"/>
        <rect x="664.697" y="292" width="1.706" height="1"/><rect x="664.478" y="293" width="1.706" height="1"/><rect x="664.259" y="294" width="1.706" height="1"/><rect x="664.04" y="295" width="1.706" height="1"/>
        <rect x="663.82" y="296" width="1.706" height="1"/><rect x="663.601" y="297" width="1.706" height="1"/><rect x="663.382" y="298" width="1.706" height="1"/><rect x="663.163" y="299" width="1.706" height="1"/>
        <rect x="662.944" y="300" width="1.706" height="1"/><rect x="662.725" y="301" width="1.706" height="1"/><rect x="662.506" y="302" width="1.706" height="1"/><rect x="662.287" y="303" width="1.706" height="1"/>
        <rect x="662.067" y="304" width="1.706" height="1"/><rect x="661.848" y="305" width="1.706" height="1"/><rect x="661.629" y="306" width="1.706" height="1"/><rect x="661.41" y="307" width="1.706" height="1"/>
        <rect x="661.191" y="308" width="1.706" height="1"/><rect x="660.972" y="309" width="1.706" height="1"/><rect x="660.753" y="310" width="1.706" height="1"/><rect x="660.534" y="311" width="1.706" height="1"/>
        <rect x="660.314" y="312" width="1.706" height="1"/><rect x="660.095" y="313" width="1.706" height="1"/><rect x="659.876" y="314" width="1.706" height="1"/><rect x="659.657" y="315" width="1.706" height="1"/>
        <rect x="659.438" y="316" width="1.706" height="1"/><rect x="659.219" y="317" width="1.706" height="1"/><rect x="659" y="318" width="1.706" height="1"/><rect x="658.781" y="319" width="1.706" height="1"/>
        <rect x="658.561" y="320" width="1.706" height="1"/><rect x="658.342" y="321" width="1.706" height="1"/><rect x="658.123" y="322" width="1.706" height="1"/><rect x="657.904" y="323" width="1.706" height="1"/>
        <rect x="657.685" y="324" width="1.706" height="1"/><rect x="657.466" y="325" width="1.706" height="1"/><rect x="657.247" y="326" width="1.706" height="1"/><rect x="657.027" y="327" width="1.706" height="1"/>
        <rect x="656.808" y="328" width="1.706" height="1"/><rect x="656.589" y="329" width="1.706" height="1"/><rect x="656.37" y="330" width="1.706" height="1"/><rect x="656.151" y="331" width="1.706" height="1"/>
        <rect x="655.932" y="332" width="1.706" height="1"/><rect x="655.713" y="333" width="1.706" height="1"/><rect x="655.494" y="334" width="1.706" height="1"/><rect x="655.274" y="335" width="1.706" height="1"/>
        <rect x="655.055" y="336" width="1.706" height="1"/><rect x="654.836" y="337" width="1.706" height="1"/><rect x="654.617" y="338" width="1.706" height="1"/><rect x="654.398" y="339" width="1.706" height="1"/>
        <rect x="654.179" y="340" width="1.706" height="1"/><rect x="653.96" y="341" width="1.706" height="1"/><rect x="653.741" y="342" width="1.706" height="1"/><rect x="653.521" y="343" width="1.706" height="1"/>
        <rect x="653.302" y="344" width="1.706" height="1"/><rect x="653.083" y="345" width="1.706" height="1"/><rect x="652.864" y="346" width="1.706" height="1"/><rect x="652.645" y="347" width="1.706" height="1"/>
        <rect x="652.426" y="348" width="1.706" height="1"/><rect x="652.207" y="349" width="1.706" height="1"/><rect x="651.988" y="350" width="1.706" height="1"/><rect x="651.768" y="351" width="1.706" height="1"/>
        <rect x="651.549" y="352" width="1.706" height="1"/><rect x="651.33" y="353" width="1.706" height="1"/><rect x="651.111" y="354" width="1.706" height="1"/><rect x="650.892" y="355" width="1.706" height="1"/>
        <rect x="650.673" y="356" width="1.706" height="1"/><rect x="650.454" y="357" width="1.706" height="1"/><rect x="650.234" y="358" width="1.706" height="1"/><rect x="650.015" y="359" width="1.706" height="1"/>
        <rect x="649.796" y="360" width="1.706" height="1"/><rect x="649.577" y="361" width="1.706" height="1"/><rect x="649.358" y="362" width="1.706" height="1"/><rect x="649.139" y="363" width="1.706" height="1"/>
        <rect x="648.92" y="364" width="1.706" height="1"/><rect x="648.701" y="365" width="1.706" height="1"/><rect x="648.481" y="366" width="1.706" height="1"/><rect x="648.262" y="367" width="1.706" height="1"/>
        <rect x="648.043" y="368" width="1.706" height="1"/><rect x="647.824" y="369" width="1.706" height="1"/><rect x="647.605" y="370" width="1.706" height="1"/><rect x="647.386" y="371" width="1.706" height="1"/>
        <rect x="647.167" y="372" width="1.706" height="1"/><rect x="646.948" y="373" width="1.706" height="1"/><rect x="646.728" y="374" width="1.706" height="1"/><rect x="646.509" y="375" width="1.706" height="1"/>
        <rect x="646.29" y="376" width="1.706" height="1"/><rect x="646.071" y="377" width="1.706" height="1"/><rect x="645.852" y="378" width="1.706" height="1"/><rect x="645.633" y="379" width="1.706" height="1"/>
        <rect x="645.414" y="380" width="1.706" height="1"/><rect x="645.195" y="381" width="1.706" height="1"/><rect x="644.975" y="382" width="1.706" height="1"/><rect x="644.756" y="383" width="1.706" height="1"/>
        <rect x="644.537" y="384" width="1.706" height="1"/><rect x="644.318" y="385" width="1.706" height="1"/><rect x="644.099" y="386" width="1.706" height="1"/><rect x="643.88" y="387" width="1.706" height="1"/>
        <rect x="643.661" y="388" width="1.706" height="1"/><rect x="643.441" y="389" width="1.706" height="1"/><rect x="643.222" y="390" width="1.706" height="1"/><rect x="643.003" y="391" width="1.706" height="1"/>
        <rect x="642.784" y="392" width="1.706" height="1"/><rect x="642.565" y="393" width="1.706" height="1"/><rect x="642.346" y="394" width="1.706" height="1"/><rect x="642.127" y="395" width="1.706" height="1"/>
        <rect x="641.908" y="396" width="1.706" height="1"/><rect x="641.688" y="397" width="1.706" height="1"/><rect x="641.469" y="398" width="1.706" height="1"/><rect x="641.25" y="399" width="1.706" height="1"/>
        <rect x="641.031" y="400" width="1.706" height="1"/><rect x="640.812" y="401" width="1.706" height="1"/><rect x="640.593" y="402" width="1.706" height="1"/><rect x="640.374" y="403" width="1.706" height="1"/>
        <rect x="640.155" y="404" width="1.706" height="1"/><rect x="639.935" y="405" width="1.706" height="1"/><rect x="639.716" y="406" width="1.706" height="1"/><rect x="639.497" y="407" width="1.706" height="1"/>
        <rect x="639.278" y="408" width="1.706" height="1"/><rect x="639.059" y="409" width="1.706" height="1"/><rect x="638.84" y="410" width="1.706" height="1"/><rect x="638.621" y="411" width="1.706" height="1"/>
        <rect x="638.401" y="412" width="1.706" height="1"/><rect x="638.182" y="413" width="1.706" height="1"/><rect x="637.963" y="414" width="1.706" height="1"/><rect x="637.744" y="415" width="1.706" height="1"/>
        <rect x="637.525" y="416" width="1.706" height="1"/><rect x="637.306" y="417" width="1.706" height="1"/><rect x="637.087" y="418" width="1.706" height="1"/><rect x="636.868" y="419" width="1.706" height="1"/>
        <rect x="636.648" y="420" width="1.706" height="1"/><rect x="636.429" y="421" width="1.706" height="1"/><rect x="636.21" y="422" width="1.706" height="1"/><rect x="635.991" y="423" width="1.706" height="1"/>
        <rect x="635.772" y="424" width="1.706" height="1"/><rect x="635.553" y="425" width="1.706" height="1"/><rect x="635.334" y="426" width="1.706" height="1"/><rect x="635.115" y="427" width="1.706" height="1"/>
        <rect x="634.895" y="428" width="1.706" height="1"/><rect x="634.676" y="429" width="1.706" height="1"/><rect x="634.457" y="430" width="1.706" height="1"/><rect x="634.238" y="431" width="1.706" height="1"/>
        <rect x="634.019" y="432" width="1.706" height="1"/><rect x="633.8" y="433" width="1.706" height="1"/><rect x="633.581" y="434" width="1.706" height="1"/><rect x="633.362" y="435" width="1.706" height="1"/>
        <rect x="633.142" y="436" width="1.706" height="1"/><rect x="632.923" y="437" width="1.706" height="1"/><rect x="632.704" y="438" width="1.706" height="1"/><rect x="632.485" y="439" width="1.706" height="1"/>
        <rect x="632.266" y="440" width="1.706" height="1"/><rect x="632.047" y="441" width="1.706" height="1"/><rect x="631.828" y="442" width="1.706" height="1"/><rect x="631.608" y="443" width="1.706" height="1"/>
        <rect x="631.389" y="444" width="1.706" height="1"/><rect x="631.17" y="445" width="1.706" height="1"/><rect x="630.951" y="446" width="1.706" height="1"/><rect x="630.732" y="447" width="1.706" height="1"/>
        <rect x="630.513" y="448" width="1.706" height="1"/><rect x="630.294" y="449" width="1.706" height="1"/><rect x="630.075" y="450" width="1.706" height="1"/><rect x="629.855" y="451" width="1.706" height="1"/>
        <rect x="629.636" y="452" width="1.706" height="1"/><rect x="629.417" y="453" width="1.706" height="1"/><rect x="629.198" y="454" width="1.706" height="1"/><rect x="628.979" y="455" width="1.706" height="1"/>
        <rect x="628.76" y="456" width="1.706" height="1"/><rect x="628.541" y="457" width="1.706" height="1"/><rect x="628.322" y="458" width="1.706" height="1"/><rect x="628.102" y="459" width="1.706" height="1"/>
        <rect x="627.883" y="460" width="1.706" height="1"/><rect x="627.664" y="461" width="1.706" height="1"/><rect x="627.445" y="462" width="1.706" height="1"/><rect x="627.226" y="463" width="1.706" height="1"/>
        <rect x="627.007" y="464" width="1.706" height="1"/><rect x="626.788" y="465" width="1.706" height="1"/><rect x="626.569" y="466" width="1.706" height="1"/><rect x="673" y="262.545" width="1" height="1.667"/>
        <rect x="674" y="262.565" width="1" height="1.667"/><rect x="675" y="262.585" width="1" height="1.667"/><rect x="676" y="262.605" width="1" height="1.667"/><rect x="677" y="262.625" width="1" height="1.667"/>
        <rect x="678" y="262.645" width="1" height="1.667"/><rect x="679" y="262.665" width="1" height="1.667"/><rect x="680" y="262.685" width="1" height="1.667"/><rect x="681" y="262.705" width="1" height="1.667"/>
        <rect x="682" y="262.725" width="1" height="1.667"/><rect x="683" y="262.745" width="1" height="1.667"/><rect x="684" y="262.765" width="1" height="1.667"/><rect x="685" y="262.785" width="1" height="1.667"/>
        <rect x="686" y="262.805" width="1" height="1.667"/><rect x="687" y="262.825" width="1" height="1.667"/><rect x="688" y="262.845" width="1" height="1.667"/><rect x="689" y="262.865" width="1" height="1.667"/>
        <rect x="690" y="262.885" width="1" height="1.667"/><rect x="691" y="262.905" width="1" height="1.667"/><rect x="692" y="262.925" width="1" height="1.667"/><rect x="693" y="262.945" width="1" height="1.667"/>
        <rect x="694" y="262.965" width="1" height="1.667"/><rect x="695" y="262.985" width="1" height="1.667"/><rect x="696" y="263.005" width="1" height="1.667"/><rect x="697" y="263.025" width="1" height="1.667"/>
        <rect x="698" y="263.045" width="1" height="1.667"/><rect x="699" y="263.065" width="1" height="1.667"/><rect x="700" y="263.085" width="1" height="1.667"/><rect x="701" y="263.105" width="1" height="1.667"/>
        <rect x="702" y="263.125" width="1" height="1.667"/><rect x="703" y="263.145" width="1" height="1.667"/><rect x="704" y="263.165" width="1" height="1.667"/><rect x="705" y="263.185" width="1" height="1.667"/>
        <rect x="706" y="263.205" width="1" height="1.667"/><rect x="707" y="263.225" width="1" height="1.667"/><rect x="708" y="263.245" width="1" height="1.667"/><rect x="709" y="263.265" width="1" height="1.667"/>
        <rect x="710" y="263.285" width="1" height="1.667"/><rect x="711" y="263.305" width="1" height="1.667"/><rect x="712" y="263.325" width="1" height="1.667"/><rect x="713" y="263.345" width="1" height="1.667"/>
        <rect x="714" y="263.365" width="1" height="1.667"/><rect x="715" y="263.385" width="1" height="1.667"/><rect x="716" y="263.405" width="1" height="1.667"/><rect x="717" y="263.425" width="1" height="1.667"/>
        <rect x="718" y="263.445" width="1" height="1.667"/><rect x="719" y="263.465" width="1" height="1.667"/><rect x="720" y="263.485" width="1" height="1.667"/><rect x="721" y="263.505" width="1" height="1.667"/>
        <rect x="722" y="263.525" width="1" height="1.667"/><rect x="723" y="263.545" width="1" height="1.667"/><rect x="724" y="263.565" width="1" height="1.667"/><rect x="725" y="263.585" width="1" height="1.667"/>
        <rect x="726" y="263.605" width="1" height="1.667"/><rect x="727" y="263.625" width="1" height="1.667"/><rect x="728" y="263.645" width="1" height="1.667"/><rect x="729" y="263.665" width="1" height="1.667"/>
        <rect x="730" y="263.685" width="1" height="1.667"/><rect x="731" y="263.705" width="1" height="1.667"/><rect x="732" y="263.725" width="1" height="1.667"/><rect x="733" y="263.745" width="1" height="1.667"/>
        <rect x="734" y="263.765" width="1" height="1.667"/><rect x="735" y="263.785" width="1" height="1.667"/><rect x="736" y="263.805" width="1" height="1.667"/><rect x="737" y="263.825" width="1" height="1.667"/>
        <rect x="738" y="263.845" width="1" height="1.667"/><rect x="739" y="263.865" width="1" height="1.667"/><rect x="740" y="263.885" width="1" height="1.667"/><rect x="741" y="263.905" width="1" height="1.667"/>
        <rect x="742" y="263.925" width="1" height="1.667"/><rect x="743" y="263.945" width="1" height="1.667"/><rect x="744" y="263.965" width="1" height="1.667"/><rect x="745" y="263.985" width="1" height="1.667"/>
        <rect x="746" y="264.005" width="1" height="1.667"/><rect x="747" y="264.025" width="1" height="1.667"/><rect x="748" y="264.045" width="1" height="1.667"/><rect x="749" y="264.065" width="1" height="1.667"/>
        <rect x="750" y="264.085" width="1" height="1.667"/><rect x="751" y="264.105" width="1" height="1.667"/><rect x="752" y="264.125" width="1" height="1.667"/><rect x="753" y="264.145" width="1" height="1.667"/>
        <rect x="754" y="264.165" width="1" height="1.667"/><rect x="755" y="264.185" width="1" height="1.667"/><rect x="756" y="264.205" width="1" height="1.667"/><rect x="757" y="264.225" width="1" height="1.667"/>
        <rect x="758" y="264.245" width="1" height="1.667"/><rect x="759" y="264.265" width="1" height="1.667"/><rect x="760" y="264.285" width="1" height="1.667"/><rect x="761" y="264.305" width="1" height="1.667"/>
        <rect x="762" y="264.325" width="1" height="1.667"/><rect x="763" y="264.345" width="1" height="1.667"/><rect x="764" y="264.365" width="1" height="1.667"/><rect x="765" y="264.385" width="1" height="1.667"/>
        <rect x="766" y="264.405" width="1" height="1.667"/><rect x="767" y="264.425" width="1" height="1.667"/><rect x="768" y="264.445" width="1" height="1.667"/><rect x="769" y="264.465" width="1" height="1.667"/>
        <rect x="770" y="264.485" width="1" height="1.667"/><rect x="771" y="264.505" width="1" height="1.667"/><rect x="772" y="264.525" width="1" height="1.667"/><rect x="773" y="264.545" width="1" height="1.667"/>
        <rect x="774" y="264.565" width="1" height="1.667"/><rect x="775" y="264.585" width="1" height="1.667"/><rect x="776" y="264.605" width="1" height="1.667"/><rect x="777" y="264.625" width="1" height="1.667"/>
        <rect x="778" y="264.645" width="1" height="1.667"/><rect x="779" y="264.665" width="1" height="1.667"/><rect x="780" y="264.685" width="1" height="1.667"/><rect x="781" y="264.705" width="1" height="1.667"/>
        <rect x="782" y="264.725" width="1" height="1.667"/><rect x="783" y="264.745" width="1" height="1.667"/><rect x="784" y="264.765" width="1" height="1.667"/><rect x="785" y="264.785" width="1" height="1.667"/>
        <rect x="786" y="264.805" width="1" height="1.667"/><rect x="787" y="264.825" width="1" height="1.667"/><rect x="788" y="264.845" width="1" height="1.667"/><rect x="789" y="264.865" width="1" height="1.667"/>
        <rect x="790" y="264.885" width="1" height="1.667"/><rect x="791" y="264.905" width="1" height="1.667"/><rect x="792" y="264.925" width="1" height="1.667"/><rect x="793" y="264.945" width="1" height="1.667"/>
        <rect x="794" y="264.965" width="1" height="1.667"/><rect x="795" y="264.985" width="1" height="1.667"/><rect x="796" y="265.005" width="1" height="1.667"/><rect x="797" y="265.025" width="1" height="1.667"/>
      </g>
    </g>
    <g class="spines">
      <path d="M60.5,490.5 L60.5,28.5" fill="none" stroke="#cccccc" stroke-width="1.389" stroke-linecap="square"/>
      <path d="M835.5,490.5 L835.5,28.5" fill="none" stroke="#cccccc" stroke-width="1.389" stroke-linecap="square"/>
      <path d="M59.806,490.5 H836.194" fill="none" stroke="#cccccc" stroke-opacity="0.1944" stroke-width="3"/>
      <path d="M59.806,490.5 H836.194" fill="none" stroke="#cccccc" stroke-width="1"/>
      <path d="M59.806,28.5 H836.194" fill="none" stroke="#cccccc" stroke-opacity="0.1944" stroke-width="3"/>
      <path d="M59.806,28.5 H836.194" fill="none" stroke="#cccccc" stroke-width="1"/>
    </g>
    <g class="watermark">
      <text font-size="16.8" fill="#808080" fill-opacity="0.5" transform="translate(75.062,65) scale(0.9921,1)" x="1.008 15.623 25.829 30.491 36.413 46.24 50.902 60.1 69.297 79.629 86.181 95.001 100.292 111.758" y="0">WolfTickets.AI</text>
    </g>
    <g class="title">
      <text font-size="13.1" fill="#262626" stroke="#262626" stroke-width="0.02" transform="translate(302.062,20) scale(1.0178,1)" x="0 8.351 16.457 24.563 32.914 39.546 46.301 51.582 57.108 60.793 68.039 76.145 82.899 89.531 93.216 101.321 109.673 118.024 126.13 134.481 141.113 149.465 157.57 163.097 169.729 182.624 186.309 194.66 203.011 208.292 216.398 220.574 228.68 236.417 244.522 250.049 254.225 259.506 263.19 276.086" y="0">head_strikes_landed_per_minute over time</text>
    </g>
    <g class="legend">
      <path d="M68.5,483.5 L239.5,483.5 Q241.5,483.5 241.5,481.5 L241.5,444.5 Q241.5,442.5 239.5,442.5 L68.5,442.5 Q66.5,442.5 66.5,444.5 L66.5,481.5 Q66.5,483.5 68.5,483.5 Z" fill="#ffffff" fill-opacity="0.8" stroke="#cccccc" stroke-opacity="0.8" stroke-width="1.111"/>
      <path d="M68.5,441.5 H239.5" fill="none" stroke="#cccccc" stroke-opacity="0.0556" stroke-width="1"/>
      <path d="M68.5,443.5 H239.5" fill="none" stroke="#cccccc" stroke-opacity="0.0556" stroke-width="1"/>
      <path d="M68.5,482.5 H239.5" fill="none" stroke="#cccccc" stroke-opacity="0.0556" stroke-width="1"/>
      <path d="M68.5,484.5 H239.5" fill="none" stroke="#cccccc" stroke-opacity="0.0556" stroke-width="1"/>
      <path d="M70.405,452 H95.595" fill="none" stroke="#1f77b4" stroke-opacity="0.8333" stroke-width="2"/>
      <text font-size="12.222" fill="#262626" stroke="#262626" stroke-width="0.01" x="105.062 112.438 119.938 127.688 135.188 141.688 148.188 155.688 159.562 169.062 176.562 188.562 196.062 203.812 211.312 219.062 222.438 229.938" y="457">Vanessa Demopoulos</text>
      <path d="M70.405,471 H95.595" fill="none" stroke="#ff7f0e" stroke-opacity="0.8333" stroke-width="2"/>
      <text font-size="12.222" fill="#262626" stroke="#262626" stroke-width="0.03" x="105.062 110.562 118.062 121.438 124.812 129.688 137.188 141.062 149.438 152.812 160.312 168.062 174.812 182.312" y="476">Talita Alencar</text>
    </g>
  </g>
</svg>
</body>
</html>
